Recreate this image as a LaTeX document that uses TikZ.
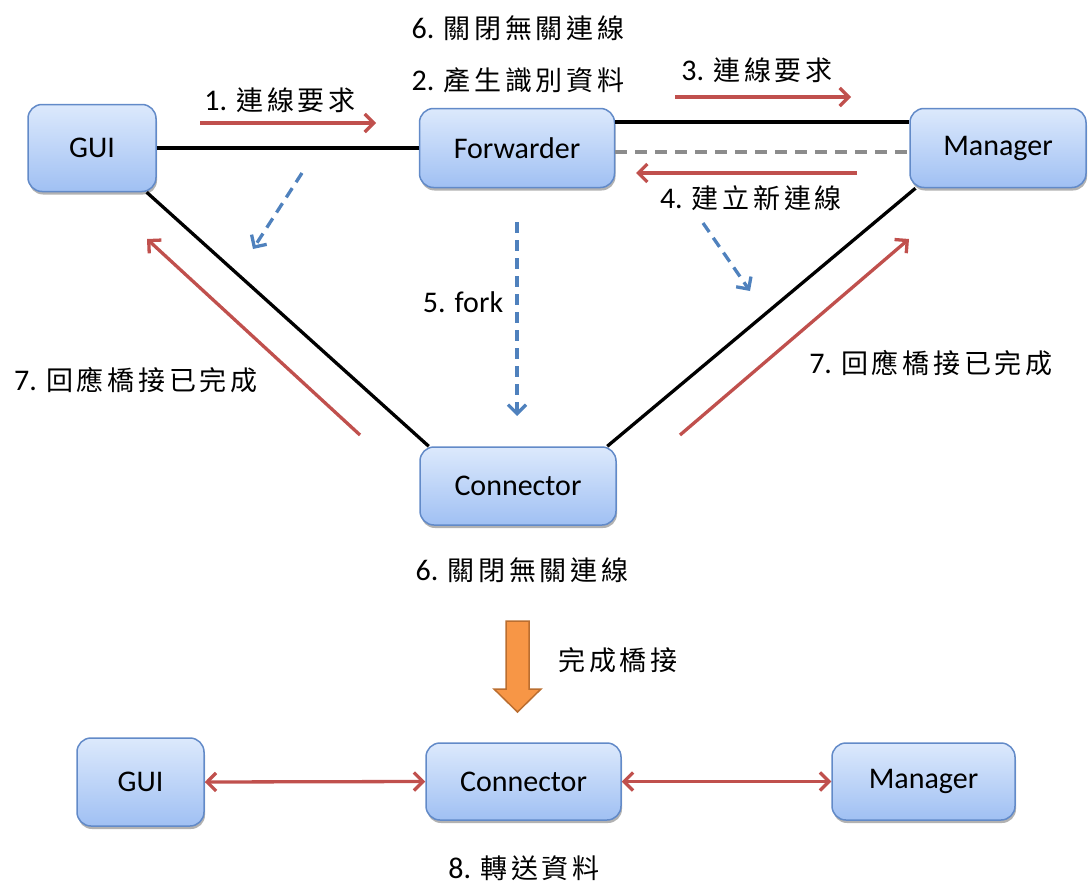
\documentclass[tikz,border=0pt]{standalone}
\usepackage{fontspec}
\setmainfont{Carlito}
\newfontfamily\cjk[LetterSpace=14]{Noto Sans CJK TC}
\usetikzlibrary{arrows.meta,shadows,calc}
\definecolor{ared}{RGB}{192,80,77}
\definecolor{ablue}{RGB}{79,129,189}
\definecolor{agray}{RGB}{140,140,140}
\definecolor{boxtop}{RGB}{220,233,252}
\definecolor{boxbot}{RGB}{160,192,243}
\definecolor{boxline}{RGB}{98,138,200}
\definecolor{aorange}{RGB}{247,150,70}
\definecolor{aorangeline}{RGB}{186,110,48}
\newcommand\lab[2]{{\fontsize{30}{34}\selectfont #1}{\fontsize{27}{32}\selectfont\cjk #2}}
\tikzset{
  box/.style={rectangle, rounded corners=14pt, draw=boxline, line width=1.5pt,
    top color=boxtop, bottom color=boxbot, inner sep=0pt,
    font=\fontsize{30}{34}\selectfont,
    drop shadow={shadow xshift=1pt, shadow yshift=-3pt, opacity=0.3, fill=black}},
  lat/.style={inner sep=0pt, font=\fontsize{30}{34}\selectfont},
  txt/.style={inner sep=0pt},
  link/.style={draw=black, line width=3.3pt},
  redarr/.style={draw=ared, line width=3.3pt, -{Straight Barb[length=9pt,width=18pt]}},
  redboth/.style={draw=ared, line width=3.3pt, {Straight Barb[length=9pt,width=18pt]}-{Straight Barb[length=9pt,width=18pt]}},
  bluearr/.style={draw=ablue, line width=3.3pt, dash pattern=on 11pt off 7pt, -{Straight Barb[length=9pt,width=18pt]}},
  graydash/.style={draw=agray, line width=3.3pt, dash pattern=on 12pt off 8pt},
}
\begin{document}
\begin{tikzpicture}[x=1pt,y=-1pt]
\useasboundingbox (0,0) rectangle (1088,886);
% top nodes
\node[box, minimum width=128pt, minimum height=87pt] (gui) at (92,148) {GUI};
\node[box, minimum width=195pt, minimum height=79pt] (fwd) at (517,148) {Forwarder};
\node[box, minimum width=176pt, minimum height=79pt] (mgr) at (998,148) {Manager};
\node[box, minimum width=196pt, minimum height=78pt] (con) at (518,486) {Connector};
% bottom nodes
\node[box, minimum width=127pt, minimum height=88pt] (gui2) at (140.5,782) {GUI};
\node[box, minimum width=195pt, minimum height=77pt] (con2) at (523.5,781.5) {Connector};
\node[box, minimum width=183pt, minimum height=77pt] (mgr2) at (923.5,781.5) {Manager};
% links
\draw[link] (gui.east) -- (fwd.west);
\draw[link] ([yshift=26pt]fwd.east) -- ([yshift=26pt]mgr.west);
\draw[graydash] ([yshift=-4pt]fwd.east) -- ([yshift=-4pt]mgr.west);
\draw[link] (gui.-39) -- (con.156.6);
\draw[link] (mgr.206.6) -- (con.24);
\draw[redboth] (gui2.east) -- (con2.west);
\draw[redboth] (con2.east) -- (mgr2.west);
% annotation arrows
\coordinate (a1s) at (200,123); \coordinate (a1e) at (376,123);
\coordinate (a3s) at (675,97);  \coordinate (a3e) at (851,97);
\coordinate (a4s) at (857,173); \coordinate (a4e) at (636,173);
\coordinate (b1s) at (302,173); \coordinate (b1e) at (253,249);
\coordinate (b2s) at (703,223); \coordinate (b2e) at (750,291);
\coordinate (b3s) at (517,222); \coordinate (b3e) at (517,416);
\coordinate (r7ls) at (360,435); \coordinate (r7le) at (147,239);
\coordinate (r7rs) at (680,435); \coordinate (r7re) at (909,239);
\draw[redarr] (a1s) -- (a1e);
\draw[redarr] (a3s) -- (a3e);
\draw[redarr] (a4s) -- (a4e);
\draw[bluearr] (b1s) -- (b1e);
\draw[bluearr] (b2s) -- (b2e);
\draw[bluearr] (b3s) -- (b3e);
\draw[redarr] (r7ls) -- (r7le);
\draw[redarr] (r7rs) -- (r7re);
% orange arrow
\draw[fill=aorange, draw=aorangeline, line width=1.5pt, line join=miter]
  (506,621) -- (529,621) -- (529,689) -- (541,689) -- (517.5,712) -- (494,689) -- (506,689) -- cycle;
% labels
\node[txt] (l6t) at (518,28) {\lab{6. }{關閉無關連線}};
\node[txt] (l2) at (518,80) {\lab{2. }{產生識別資料}};
\node[txt] (l1) at (280,100) {\lab{1. }{連線要求}};
\node[txt] (l3) at (757,70) {\lab{3. }{連線要求}};
\node[txt] (l4) at (751,198) {\lab{4. }{建立新連線}};
\node[lat] (l5) at (463,302) {5. fork};
\node[txt] (l7l) at (136,380) {\lab{7. }{回應橋接已完成}};
\node[txt] (l7r) at (931,363) {\lab{7. }{回應橋接已完成}};
\node[txt] (l6b) at (522,570) {\lab{6. }{關閉無關連線}};
\node[txt] (lbr) at (618,660) {\lab{}{完成橋接}};
\node[txt] (l8) at (524,868) {\lab{8. }{轉送資料}};
\end{tikzpicture}
\end{document}
